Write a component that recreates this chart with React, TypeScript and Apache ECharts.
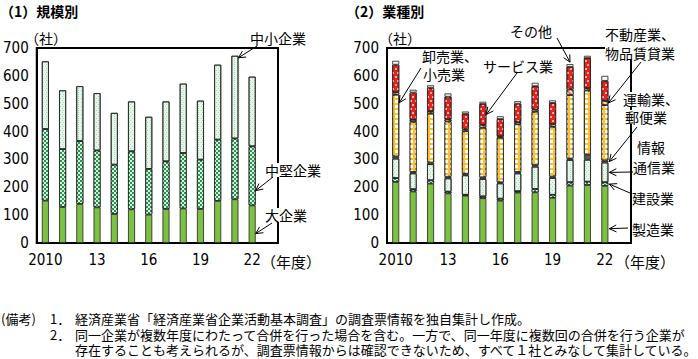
import React, { useEffect, useRef } from 'react';
import * as echarts from 'echarts';

const years = ['2010', '11', '12', '13', '14', '15', '16', '17', '18', '19', '20', '21', '22'];
const axisCats = [...years, ''];
const yTicks = [0, 100, 200, 300, 400, 500, 600, 700];

// (1) 規模別
const largeEnt = [152, 129, 140, 128, 104, 121, 102, 122, 124, 122, 151, 157, 135];
const midEnt = [257, 208, 226, 204, 177, 208, 164, 171, 199, 177, 220, 218, 212];
const smallEnt = [243, 211, 197, 206, 186, 179, 187, 215, 249, 212, 269, 297, 250];

// (2) 業種別
const manufacturing = [219, 185, 213, 178, 170, 161, 152, 181, 182, 162, 206, 208, 205];
const construction = [14, 8, 12, 6, 3, 6, 7, 5, 12, 11, 12, 12, 13];
const infoComm = [70, 57, 58, 48, 70, 63, 55, 64, 80, 60, 80, 79, 71];
const transport = [8, 5, 6, 6, 6, 6, 4, 5, 5, 6, 5, 18, 7];
const wholesale = [221, 180, 176, 198, 152, 178, 160, 171, 192, 178, 228, 230, 199];
const realEstate = [9, 7, 8, 8, 7, 10, 5, 8, 8, 9, 20, 8, 15];
const services = [99, 98, 84, 81, 56, 75, 62, 66, 84, 77, 81, 109, 72];
const others = [14, 10, 9, 12, 8, 8, 10, 9, 12, 9, 10, 8, 18];

const industryArrays = [manufacturing, construction, infoComm, transport, wholesale, realEstate, services, others];
const sizeArrays = [largeEnt, midEnt, smallEnt];

const NUM_FONT = "'Liberation Sans Narrow', 'Arial Narrow', 'DejaVu Sans Condensed', 'Liberation Sans', sans-serif";
const JP_FONT = "'Noto Sans CJK JP', sans-serif";

const cum = (arrs: number[][], i: number, n: number) => {
  let s = 0;
  for (let k = 0; k < n; k++) s += arrs[k][i];
  return s;
};

const dotGreenDecal = {
  symbol: 'rect',
  symbolSize: 1,
  color: 'rgba(255,255,255,0.85)',
  dashArrayX: [[2, 2], [0, 2, 2, 0]],
  dashArrayY: [2, 0],
};
const lightDotDecal = {
  symbol: 'rect',
  symbolSize: 1,
  color: 'rgba(80,180,110,0.45)',
  dashArrayX: [[1, 2], [0, 1.5, 1, 0.5]],
  dashArrayY: [1, 1],
};
const gridDecal = {
  symbol: 'rect',
  symbolSize: 1,
  color: '#ffffff',
  dashArrayX: [2.5, 1.2],
  dashArrayY: [2.5, 1.2],
};
const redDotDecal = {
  symbol: 'circle',
  symbolSize: 0.9,
  color: 'rgba(255,255,255,0.9)',
  dashArrayX: [[1.5, 2.5], [0, 2, 1.5, 0.5]],
  dashArrayY: [1.5, 1.5],
};
const hatchDecal = {
  symbol: 'rect',
  symbolSize: 1,
  color: 'rgba(255,255,255,0.8)',
  dashArrayX: [[1, 0]],
  dashArrayY: [1.2, 1.5],
  rotation: Math.PI / 4,
};

function bar(name: string, data: number[], stack: string, axis: number, color: string, decal?: any) {
  return {
    type: 'bar',
    name,
    data,
    stack,
    xAxisIndex: axis,
    yAxisIndex: axis,
    barWidth: 7,
    itemStyle: { color, borderColor: '#222', borderWidth: 0.8, ...(decal ? { decal } : {}) },
    emphasis: { disabled: true },
  };
}

function makeXAxis(gridIndex: number) {
  return {
    type: 'category',
    gridIndex,
    data: axisCats,
    axisLine: { show: true, lineStyle: { color: '#000', width: 2 } },
    axisTick: { show: false },
    axisLabel: { interval: 2, margin: 9, fontFamily: NUM_FONT, fontSize: 15, color: '#000' },
  };
}
function makeYAxis(gridIndex: number) {
  return {
    type: 'value',
    gridIndex,
    min: yTicks[0],
    max: yTicks[yTicks.length - 1],
    interval: 100,
    axisLine: { show: true, lineStyle: { color: '#000', width: 2 } },
    axisTick: { show: false },
    splitLine: { show: false },
    axisLabel: { margin: 8, fontFamily: NUM_FONT, fontSize: 15, color: '#000' },
  };
}

function txt(text: string, x: number, y: number, size = 14, extra: any = {}) {
  return {
    type: 'text',
    x,
    y,
    z: 100,
    style: {
      text,
      fontSize: size,
      lineHeight: size,
      fontFamily: JP_FONT,
      fill: '#000',
      verticalAlign: 'middle',
      align: 'left',
      ...extra,
    },
  };
}

function arrow(sx: number, sy: number, tx: number, ty: number) {
  const dx = tx - sx;
  const dy = ty - sy;
  const len = Math.sqrt(dx * dx + dy * dy) || 1;
  const ux = dx / len;
  const uy = dy / len;
  const L = 7;
  const W = 3.5;
  const bx = tx - ux * L;
  const by = ty - uy * L;
  const p1 = [bx - uy * W, by + ux * W];
  const p2 = [bx + uy * W, by - ux * W];
  return [
    { type: 'line', z: 90, shape: { x1: sx, y1: sy, x2: tx, y2: ty }, style: { stroke: '#000', lineWidth: 1 } },
    { type: 'polyline', z: 90, shape: { points: [p1, [tx, ty], p2] }, style: { stroke: '#000', lineWidth: 1, fill: null } },
  ];
}

export default function App() {
  const ref = useRef<HTMLDivElement>(null);
  useEffect(() => {
    if (!ref.current) return;
    const chart = echarts.init(ref.current, undefined, { renderer: 'svg' });
    const option: any = {
      animation: false,
      backgroundColor: '#fff',
      grid: [
        { left: 33, top: 48, width: 245, height: 195, show: true, borderColor: '#000', borderWidth: 2, backgroundColor: 'transparent' },
        { left: 387, top: 48, width: 244, height: 195, show: true, borderColor: '#000', borderWidth: 2, backgroundColor: 'transparent' },
      ],
      xAxis: [makeXAxis(0), makeXAxis(1)],
      yAxis: [makeYAxis(0), makeYAxis(1)],
      series: [
        bar('大企業', largeEnt, 'size', 0, '#7cc142'),
        bar('中堅企業', midEnt, 'size', 0, '#1f9b4c', dotGreenDecal),
        bar('中小企業', smallEnt, 'size', 0, '#e6f6e9', lightDotDecal),
        bar('製造業', manufacturing, 'ind', 1, '#7cc142'),
        bar('建設業', construction, 'ind', 1, '#1f9b4c', dotGreenDecal),
        bar('情報通信業', infoComm, 'ind', 1, '#e6f6e9', lightDotDecal),
        bar('運輸業、郵便業', transport, 'ind', 1, '#5a5a5a'),
        bar('卸売業、小売業', wholesale, 'ind', 1, '#fdbf2d', gridDecal),
        bar('不動産業、物品賃貸業', realEstate, 'ind', 1, '#f07a3a', hatchDecal),
        bar('サービス業', services, 'ind', 1, '#e62117', redDotDecal),
        bar('その他', others, 'ind', 1, '#f4f4f4'),
      ],
    };
    chart.setOption(option);

    const px = (g: number, cat: number, val: number) => chart.convertToPixel({ gridIndex: g } as any, [cat, val]) as number[];
    const anchors = [
      { g: 0, cat: 11, val: cum(sizeArrays, 11, 3), dx: 3.5, dy: 2, sx: 257, sy: 46 },
      { g: 0, cat: 12, val: largeEnt[12] + midEnt[12] * 0.25, dx: 3.5, dy: 0, sx: 273, sy: 177 },
      { g: 0, cat: 12, val: largeEnt[12] * 0.25, dx: 3.5, dy: 0, sx: 272, sy: 223 },
      { g: 1, cat: 10, val: cum(industryArrays, 10, 8), dx: 0, dy: -2, sx: 557, sy: 38 },
      { g: 1, cat: 12, val: cum(industryArrays, 12, 5) + realEstate[12] / 2, dx: 3.5, dy: 0, sx: 641, sy: 62 },
      { g: 1, cat: 0, val: cum(industryArrays, 0, 4) + wholesale[0] * 0.87, dx: 3.5, dy: 0, sx: 421, sy: 68 },
      { g: 1, cat: 5, val: cum(industryArrays, 5, 6) + services[5] * 0.5, dx: 3.5, dy: 0, sx: 517, sy: 73 },
      { g: 1, cat: 12, val: cum(industryArrays, 12, 3) + transport[12] / 2, dx: 4.5, dy: 0, sx: 637, sy: 127 },
      { g: 1, cat: 12, val: cum(industryArrays, 12, 2) + infoComm[12] * 0.5, dx: 4.5, dy: 0, sx: 633, sy: 172 },
      { g: 1, cat: 12, val: cum(industryArrays, 12, 1) + construction[12] / 2, dx: 4.5, dy: 0, sx: 630, sy: 193 },
      { g: 1, cat: 12, val: manufacturing[12] * 0.25, dx: 4.5, dy: 0, sx: 628, sy: 228 },
    ];
    const arrows: any[] = [];
    anchors.forEach((a) => {
      const p = px(a.g, a.cat, a.val);
      arrows.push(...arrow(a.sx, a.sy, p[0] + a.dx, p[1] + a.dy));
    });

    const bg = { backgroundColor: '#fff' };
    const texts = [
      txt('（1）規模別', 0, 11, 14, { fontWeight: 'bold' }),
      txt('（2）業種別', 346, 11, 14, { fontWeight: 'bold' }),
      txt('（社）', 25, 38, 14),
      txt('（社）', 379, 38, 14),
      txt('（年度）', 261, 261, 15),
      txt('（年度）', 615, 261, 15),
      txt('中小企業', 250, 38, 14, bg),
      txt('中堅企業', 265, 170, 14, bg),
      txt('大企業', 265, 215, 14, bg),
      txt('その他', 510, 31, 14, bg),
      txt('不動産業、', 605, 34, 14, bg),
      txt('物品賃貸業', 605, 53, 14, bg),
      txt('卸売業、', 422, 56, 14, bg),
      txt('小売業', 423, 74, 14, bg),
      txt('サービス業', 483, 66, 14, bg),
      txt('運輸業、', 623, 99, 14, bg),
      txt('郵便業', 625, 117, 14, bg),
      txt('情報', 637, 147, 14, bg),
      txt('通信業', 633, 167, 14, bg),
      txt('建設業', 632, 198, 14, bg),
      txt('製造業', 632, 229, 14, bg),
      txt('(備考)', 1, 318, 13),
      txt('1．', 50, 318, 13),
      txt('経済産業省「経済産業省企業活動基本調査」の調査票情報を独自集計し作成。', 75, 318, 13),
      txt('2．', 50, 334, 13),
      txt('同一企業が複数年度にわたって合併を行った場合を含む。一方で、同一年度に複数回の合併を行う企業が', 75, 334, 13),
      txt('存在することも考えられるが、調査票情報からは確認できないため、すべて１社とみなして集計している。', 75, 349.5, 13),
    ];
    chart.setOption({ graphic: [...arrows, ...texts] });
    return () => chart.dispose();
  }, []);
  return <div ref={ref} style={{ position: 'fixed', left: 0, top: 0, width: 698, height: 359 }} />;
}
